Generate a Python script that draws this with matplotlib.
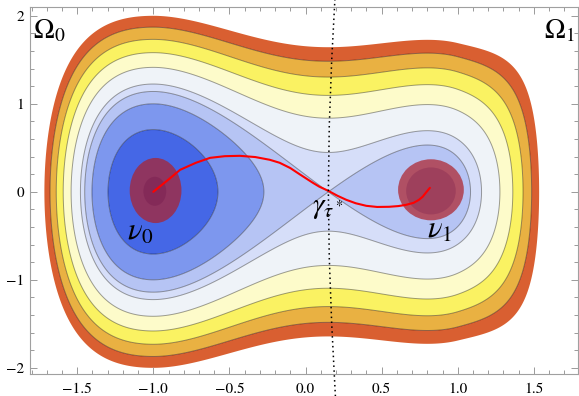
import numpy as np
import matplotlib
matplotlib.use("Agg")
import matplotlib.pyplot as plt
from matplotlib.patches import Ellipse
from matplotlib.ticker import MultipleLocator

plt.rcParams['mathtext.fontset'] = 'stix'
plt.rcParams['font.family'] = ['STIXGeneral', 'DejaVu Serif']

# potential: two wells in x (minima and saddle below), quadratic in y
well_left = -1.0
saddle = 0.15
well_right = 0.80
barrier = 1.3
soft_right = 2.0
soft_left = 0.4

# contour levels (relative to the deep minimum) and band colours
levels = [-0.1, 0.5, 1.0, 1.3, 1.5, 2.0, 2.5, 3.0, 3.5, 4.0]
band_colors = ['#4567e6', '#7d97ee', '#b6c4f4', '#d6def9', '#eff3f8',
               '#fdfbca', '#faf262', '#e9b142', '#d95f31']

# the red path from nu0 to nu1
path_x = [-1.0, -0.90, -0.824, -0.72, -0.627, -0.53, -0.431, -0.33, -0.235,
          -0.17, -0.10, -0.039, 0.046, 0.09, 0.15, 0.21, 0.268, 0.33, 0.399,
          0.47, 0.549, 0.61, 0.66, 0.71, 0.745, 0.77, 0.79, 0.817]
path_y = [0.0, 0.14, 0.25, 0.33, 0.386, 0.405, 0.409, 0.395, 0.364,
          0.33, 0.27, 0.20, 0.105, 0.059, 0.011, -0.045, -0.091, -0.13, -0.159,
          -0.172, -0.17, -0.162, -0.148, -0.125, -0.091, -0.055, -0.011, 0.045]

# the two measures (centre x, centre y, half width, half height)
nu0_outer = (-0.985, 0.015, 0.17, 0.37)
nu0_inner = (-0.99, 0.006, 0.075, 0.165)
nu1_outer = (0.824, 0.023, 0.216, 0.347)
nu1_inner = (0.824, 0.01, 0.163, 0.267)

# dotted dividing curve
div_y = [2.25, 1.5, 0.75, 0.0, -0.75, -1.5, -2.45]
div_x = [0.195, 0.172, 0.156, 0.15, 0.156, 0.172, 0.2]


def g(x):
    e1 = well_left + saddle + well_right
    e2 = well_left * saddle + well_left * well_right + saddle * well_right
    e3 = well_left * saddle * well_right
    q = lambda t: t**4 - 4 / 3 * e1 * t**3 + 2 * e2 * t**2 - 4 * e3 * t
    return (q(x) - q(well_left)) / (q(saddle) - q(well_left)) * barrier


def potential(x, y):
    c = 1 - soft_right * np.clip(x - 1, 0, None)**2 - soft_left * np.clip(-1 - x, 0, None)**2
    return g(x) + c * y**2


def main():
    fig = plt.figure(figsize=(5.79, 3.96), dpi=100)
    ax = fig.add_axes([30 / 579, 22 / 396, 548 / 579, 367 / 396])

    xs = np.linspace(-1.81, 1.79, 900)
    ys = np.linspace(-2.07, 2.10, 900)
    X, Y = np.meshgrid(xs, ys)
    Z = potential(X, Y)

    ax.contourf(X, Y, Z, levels=levels, colors=band_colors, antialiased=True)
    ax.contour(X, Y, Z, levels=levels[1:-1], colors='k', alpha=0.38, linewidths=0.7)

    for cx, cy, rx, ry in (nu0_outer, nu1_outer):
        ax.add_patch(Ellipse((cx, cy), 2 * rx, 2 * ry, facecolor=(174 / 255, 33 / 255, 41 / 255),
                             alpha=0.71, edgecolor='none', zorder=3))
    for cx, cy, rx, ry in (nu0_inner, nu1_inner):
        ax.add_patch(Ellipse((cx, cy), 2 * rx, 2 * ry, facecolor=(90 / 255, 0, 60 / 255),
                             alpha=0.2, edgecolor='none', zorder=3))

    ax.plot(path_x, path_y, color='red', lw=1.5, zorder=4, solid_capstyle='round')
    ax.plot(div_x, div_y, color='k', lw=1.1, linestyle=(0, (1, 2.2)), zorder=5, clip_on=False)

    ax.text(-1.17, -0.545, r'$\nu_0$', fontsize=22, zorder=6)
    ax.text(0.795, -0.52, r'$\nu_1$', fontsize=22, zorder=6)
    ax.text(0.04, -0.25, r'$\gamma_{\tau^*}$', fontsize=21, zorder=6)
    ax.text(-1.79, 1.74, r'$\Omega_0$', fontsize=20, zorder=6)
    ax.text(1.77, 1.74, r'$\Omega_1$', fontsize=20, ha='right', zorder=6)

    ax.set_xlim(-1.81, 1.79)
    ax.set_ylim(-2.07, 2.10)
    ax.xaxis.set_minor_locator(MultipleLocator(0.1))
    ax.yaxis.set_minor_locator(MultipleLocator(0.2))
    ax.set_xticks([-1.5, -1.0, -0.5, 0.0, 0.5, 1.0, 1.5])
    ax.set_xticklabels(['\u22121.5', '\u22121.0', '\u22120.5', '0.0', '0.5', '1.0', '1.5'])
    ax.set_yticks([-2, -1, 0, 1, 2])
    ax.set_yticklabels(['\u22122', '\u22121', '0', '1', '2'])
    ax.tick_params(which='both', direction='in', top=True, right=True, color='#9a9a9a',
                   width=0.7, labelsize=11)
    ax.tick_params(which='major', length=5)
    ax.tick_params(which='minor', length=2.8)
    ax.tick_params(axis='x', pad=6)
    ax.tick_params(axis='y', pad=4)
    for s in ax.spines.values():
        s.set_color('#a0a0a0')
        s.set_linewidth(0.8)

    fig.savefig('out.png', dpi=100)


if __name__ == "__main__":
    main()
